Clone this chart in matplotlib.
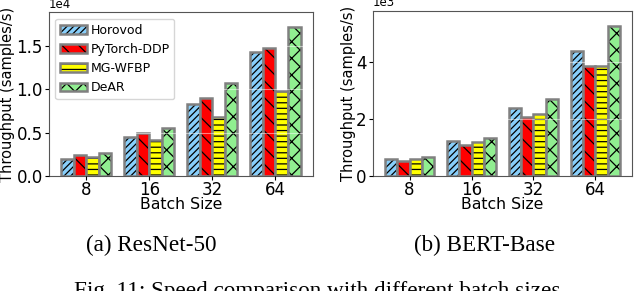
import matplotlib
matplotlib.use("Agg")
import matplotlib.pyplot as plt
import numpy as np

batch_sizes = ["8", "16", "32", "64"]
methods = ["Horovod", "PyTorch-DDP", "MG-WFBP", "DeAR"]
resnet_horovod = [2050, 4520, 8320, 14300]
resnet_ddp = [2440, 4950, 8970, 14800]
resnet_mgwfbp = [2240, 4140, 6810, 9860]
resnet_dear = [2700, 5530, 10790, 17130]
bert_horovod = [610, 1260, 2400, 4400]
bert_ddp = [540, 1100, 2080, 3870]
bert_mgwfbp = [600, 1200, 2190, 3870]
bert_dear = [670, 1340, 2700, 5280]

colors = ["#87CEFA", "#FF0000", "#FFFF00", "#90EE90"]
hatches = ["/////", "\\\\", "---", "xx"]
edge_gray = "#808080"

plt.rcParams["hatch.linewidth"] = 0.9
fig = plt.figure(figsize=(6.4, 2.91), dpi=100)
ax1 = fig.add_axes([0.0766, 0.3935, 0.4117, 0.564])
ax2 = fig.add_axes([0.5828, 0.3935, 0.4047, 0.570])

def draw(ax, series, sci, ylabelpad):
    x = np.arange(len(batch_sizes))
    w = 0.2
    handles = []
    for i, vals in enumerate(series):
        h1 = ax.bar(x + (i - 1.5) * w, vals, w, color=colors[i], hatch=hatches[i],
                    edgecolor="black", linewidth=0)
        h2 = ax.bar(x + (i - 1.5) * w, vals, w, fill=False,
                    edgecolor=edge_gray, linewidth=1.8)
        handles.append((h1[0], h2[0]))
    ax.set_xticks(x)
    ax.set_xticklabels(batch_sizes, fontsize=12)
    ax.tick_params(axis="x", length=3, pad=0)
    ax.tick_params(axis="y", labelsize=12, length=3, pad=1.5)
    mx = max(max(v) for v in series)
    ax.set_ylim(0, mx * 1.1)
    ax.ticklabel_format(axis="y", style="sci", scilimits=(sci, sci))
    ax.yaxis.get_offset_text().set_fontsize(8.5)
    ax.set_xlabel("Batch Size", fontsize=11.3, labelpad=-1.2)
    ax.set_ylabel("Throughput (samples/s)", fontsize=10.5, labelpad=ylabelpad)
    for s in ax.spines.values():
        s.set_color("#555555")
    ax.yaxis.grid(True, color="white", alpha=0.5, linewidth=0.8)
    ax.set_axisbelow(False)
    return handles

h = draw(ax1, [resnet_horovod, resnet_ddp, resnet_mgwfbp, resnet_dear], 4, 1)
draw(ax2, [bert_horovod, bert_ddp, bert_mgwfbp, bert_dear], 3, 0.3)
ax1.set_yticks([0, 5000, 10000, 15000])
ax2.set_yticks([0, 2000, 4000])
leg = ax1.legend(h, methods, loc="upper left", fontsize=9, handlelength=2.1,
                 handleheight=0.72, labelspacing=0.5, handletextpad=0.3)

fig.text(151.5 / 640, 1 - 245 / 291, "(a) ResNet-50", ha="center", va="center",
         fontsize=16.7, family="Liberation Serif")
fig.text(484.5 / 640, 1 - 245 / 291, "(b) BERT-Base", ha="center", va="center",
         fontsize=16.7, family="Liberation Serif")
fig.text(0.5, 1 - 281 / 291, "Fig. 11: Speed comparison with different batch sizes.",
         ha="center", va="top", fontsize=16.7, family="Liberation Serif")

fig.savefig("out.png", dpi=100)
